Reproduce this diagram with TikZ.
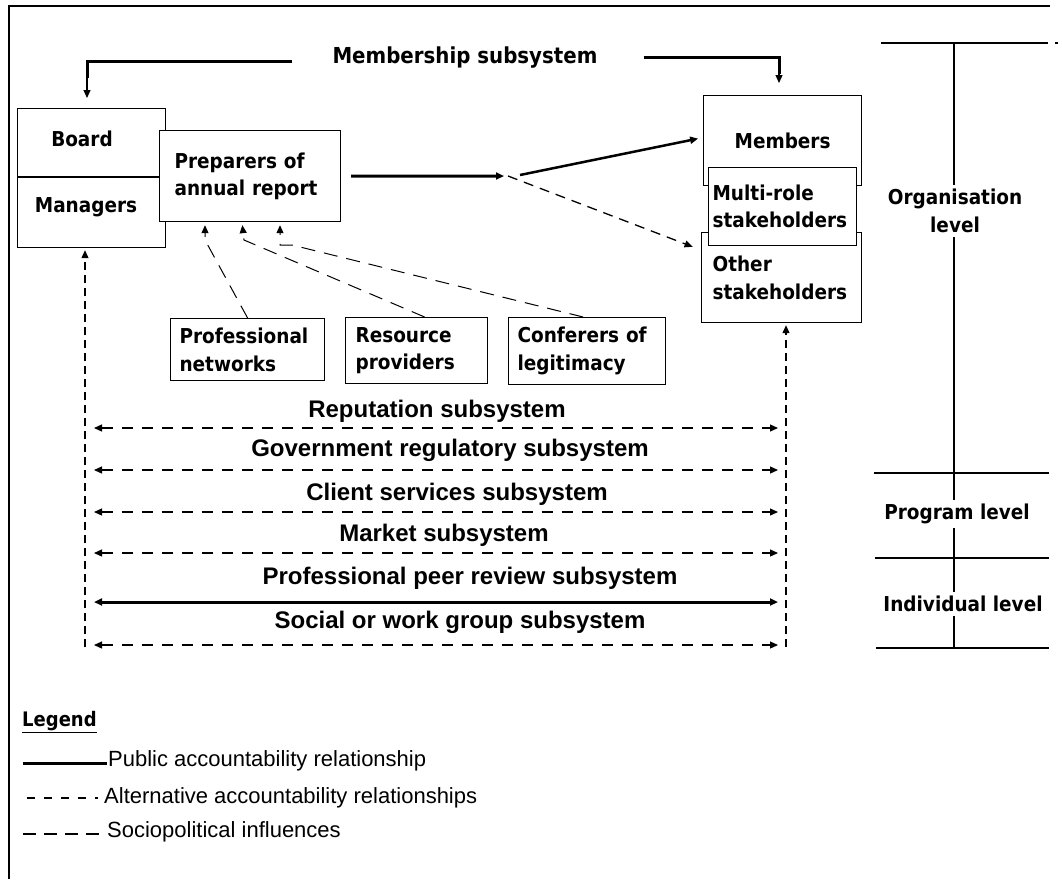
\documentclass[tikz,border=0pt]{standalone}
\usepackage{fontspec}
\setmainfont{Liberation Sans}
\newfontfamily\boxfont[FakeStretch=0.9]{DejaVu Sans}
\usepackage{tikz}
\usetikzlibrary{arrows.meta,positioning}

\tikzset{
  box/.style={draw, line width=1.2pt, fill=white, inner sep=0pt},
  lbl/.style={font=\boxfont\bfseries\fontsize{20.5}{27.5}\selectfont, align=left, inner sep=0pt},
  sublbl/.style={font=\bfseries\fontsize{24}{28}\selectfont, inner sep=0pt},
  leglbl/.style={font=\fontsize{22}{26}\selectfont, inner sep=0pt, anchor=west},
  lvl/.style={lbl, align=center, fill=white, inner ysep=4pt},
  pub/.style={line width=3pt},
  alt/.style={line width=1.2pt, dash pattern=on 11pt off 9pt},
  altv/.style={line width=1.2pt, dash pattern=on 8pt off 5pt},
  socio/.style={line width=1pt, dash pattern=on 14pt off 9pt},
  tip/.style={-{Triangle[length=8pt,width=7pt]}},
  tips/.style={{Triangle[length=8pt,width=7pt]}-{Triangle[length=8pt,width=7pt]}},
}

\begin{document}
\begin{tikzpicture}[x=1pt,y=-1pt]
\useasboundingbox (0,0) rectangle (1062,879);
\draw[line width=1.2pt] (1050,6) -- (9,6) -- (9,879); % moldura

% caixas da esquerda
\node[box, minimum width=148pt, minimum height=139pt, anchor=north west] (bm) at (17,108) {};
\draw[line width=1.2pt] (bm.west |- 0,177) -- (bm.east |- 0,177);
\node[lbl] (board) at (82,139) {Board};
\node[lbl] (mgr) at (86,207) {Managers};
\node[box, lbl, text width=151pt, inner xsep=15pt, minimum height=91pt, anchor=north west] (prep) at (159,130) {Preparers of\\annual report};

% caixas da direita
\node[box, lbl, minimum width=158pt, minimum height=90pt, anchor=north west, align=center] (mem) at (703,95) {Members};
\node[box, lbl, text width=138pt, inner xsep=11pt, minimum height=90pt, anchor=north west] (oth) at (701,232) {Other\\stakeholders};
\node[box, lbl, text width=140pt, inner xsep=4pt, minimum height=78pt, anchor=north west] (multi) at (708,167) {Multi-role\\stakeholders};

% caixas de baixo
\node[box, lbl, text width=136pt, inner xsep=9pt, minimum height=62pt, anchor=north west] (pn) at (170,318) {Professional\\networks};
\node[box, lbl, text width=122pt, inner xsep=10pt, minimum height=66pt, anchor=north west] (rp) at (345,317) {Resource\\providers};
\node[box, lbl, text width=139pt, inner xsep=9pt, minimum height=67pt, anchor=north west] (cl) at (508,317) {Conferers of\\legitimacy};

% membership subsystem
\node[lbl, font=\boxfont\bfseries\fontsize{22}{26}\selectfont] (ms) at (465,58) {Membership subsystem};
\coordinate (ml) at (87,61);
\coordinate (mr) at (779,57);
\draw[pub] ([xshift=-40pt,yshift=-3pt]ms.west) -- (ml) -- ++(0,17);
\draw[tip, line width=1.2pt] ([yshift=-15pt]ml) -- ([yshift=10pt]bm.north -| ml);
\draw[pub] ([xshift=46pt,yshift=1pt]ms.east) -- (mr) -- ++(0,17);
\draw[tip, line width=1.2pt] ([yshift=-15pt]mr) -- ([yshift=12pt]mem.north -| mr);

% relatorio -> membros / outros
\coordinate (split) at (510,176);
\draw[pub, tip] ([xshift=10pt]prep.east) -- ([xshift=-6pt]split);
\draw[line width=2.5pt, tip, shorten >=5pt] ([xshift=10pt,yshift=1pt]split) -- ([yshift=3pt]mem.west);
\draw[line width=1.3pt, dash pattern=on 10pt off 7pt, tip, shorten >=9pt] ([xshift=-2pt]split) -- ([yshift=-18pt]oth.north west);

% influencias sociopoliticas
\coordinate (s1) at (205,240);
\coordinate (s2) at (244,240);
\coordinate (s3a) at (292,245);
\coordinate (s3) at (280,245);
\draw[socio, tip, shorten >=3pt] (pn.north) -- (s1) -- (prep.south -| s1);
\draw[socio, tip, shorten >=3pt] ([xshift=8pt]rp.north) -- (s2) -- ([xshift=-2pt]prep.south -| s2);
\draw[socio, tip, shorten >=3pt] ([xshift=-4pt]cl.north) -- (s3a) -- (s3) -- (prep.south -| s3);

% linhas verticais tracejadas
\coordinate (lb) at (85,647);
\coordinate (rb) at (786,647);
\draw[altv, tip] (lb) -- ([yshift=-2pt]bm.south -| lb);
\draw[altv, tip] (rb) -- ([yshift=-2pt]oth.south -| rb);

% subsistemas
\foreach \y/\ty/\c/\t/\s [count=\i] in {
  428/411/437/Reputation subsystem/alt,
  470/450/450/Government regulatory subsystem/alt,
  512/494/457/Client services subsystem/alt,
  553/535/444/Market subsystem/alt,
  602/578/470/Professional peer review subsystem/pub,
  645/622/460/Social or work group subsystem/alt}
{
  \node[sublbl] (sub\i) at (\c,\ty) {\t};
  \draw[\s, tips] ([xshift=9pt]lb |- 0,\y) -- ([xshift=-8pt]rb |- 0,\y);
}

% niveis
\draw[line width=1.2pt] (954,43) -- (954,648);
\draw[line width=1.2pt] (881,43) -- (1048,43);
\draw[line width=1.2pt] (1055,43) -- (1058,43);
\draw[line width=1.2pt] (874,473) -- (1049,473);
\draw[line width=1.2pt] (875,558) -- (1049,558);
\draw[line width=1.2pt] (876,648) -- (1049,648);
\node[lvl] (org) at (955,211) {Organisation\\level};
\node[lvl] (prg) at (957,514) {Program level};
\node[lvl] (ind) at (963,604) {Individual level};

% legenda
\node[lbl, anchor=west, font=\boxfont\bfseries\fontsize{20}{24}\selectfont] (leg) at (22,722) {\underline{Legend}};
\node[leglbl] (l1) at (108,761) {Public accountability relationship};
\node[leglbl] (l2) at (104,798) {Alternative accountability relationships};
\node[leglbl] (l3) at (107,832) {Sociopolitical influences};
\coordinate (k1) at (23,763);
\coordinate (k2) at (27,798);
\coordinate (k3) at (23,834);
\draw[pub] (k1) -- ([xshift=-1pt]l1.west |- k1);
\draw[line width=1.2pt, dash pattern=on 8pt off 9pt] (k2) -- ([xshift=-6pt]l2.west |- k2);
\draw[line width=1.2pt, dash pattern=on 13pt off 8pt] (k3) -- ([xshift=-6pt]l3.west |- k3);
\end{tikzpicture}
\end{document}
